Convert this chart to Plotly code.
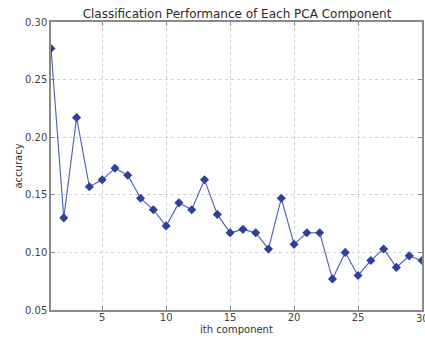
import plotly.graph_objects as go

components = list(range(1, 31))
accuracy = [0.277, 0.130, 0.217, 0.157, 0.163, 0.173, 0.167, 0.147, 0.137, 0.123,
            0.143, 0.137, 0.163, 0.133, 0.117, 0.120, 0.117, 0.103, 0.147, 0.107,
            0.117, 0.117, 0.077, 0.100, 0.080, 0.093, 0.103, 0.087, 0.097, 0.093]
x_ticks = [5, 10, 15, 20, 25, 30]
y_ticks = [0.05, 0.10, 0.15, 0.20, 0.25, 0.30]

fig = go.Figure()
fig.add_trace(go.Scatter(
    x=components, y=accuracy, mode="lines+markers",
    line=dict(color="#4a5cbc", width=1.1),
    marker=dict(symbol="diamond", size=7, color="#2d409c"),
    cliponaxis=True,
))

font = "DejaVu Sans, Liberation Sans, sans-serif"
axis_common = dict(
    showline=True, linecolor="#8a8a8a", linewidth=1.5, mirror="allticks",
    ticks="inside", ticklen=4, tickcolor="#8a8a8a",
    showgrid=True, gridcolor="#cfcfcf", griddash="dot", gridwidth=1,
    zeroline=False, tickfont=dict(size=10, color="#444444", family=font),
)

fig.update_layout(
    width=425, height=343, autosize=False,
    margin=dict(l=51, r=1, t=22, b=33),
    paper_bgcolor="white", plot_bgcolor="white",
    showlegend=False,
    font=dict(family=font, color="#333333"),
    title=dict(text="Classification Performance of Each PCA Component",
               x=237 / 425, xanchor="center", y=1 - 14 / 343, yanchor="middle",
               xref="container", yref="container",
               font=dict(size=12, color="#2a2a2a", family=font)),
    xaxis=dict(range=[1, 30], tickvals=x_ticks,
               ticklabelstandoff=-3,
               title=dict(text="ith component", font=dict(size=10, color="#333333"), standoff=4),
               **axis_common),
    yaxis=dict(range=[0.05, 0.30], tickvals=y_ticks, tickformat=".2f",
               title=dict(text="accuracy", font=dict(size=10, color="#333333"), standoff=0),
               **axis_common),
)

# the last x tick label runs past the page edge, as in the reference; plotly hides it, so draw it as text
fig.add_annotation(x=x_ticks[-1], y=0, xref="x", yref="paper", yanchor="top",
                   text=str(x_ticks[-1]), showarrow=False, yshift=-1,
                   font=dict(size=10, color="#444444", family=font))

fig.write_html("out.html")
